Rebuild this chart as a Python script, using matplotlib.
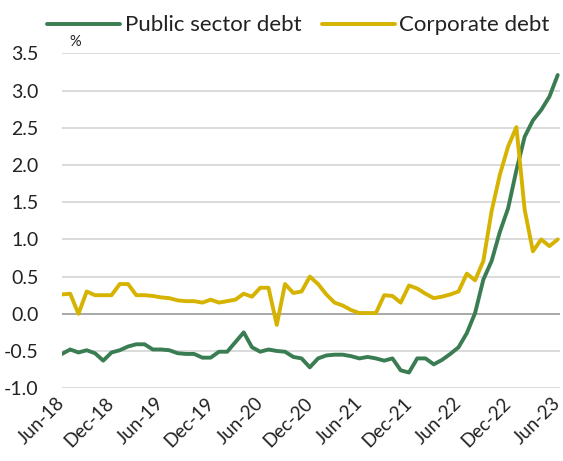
import matplotlib.pyplot as plt
from matplotlib.transforms import ScaledTranslation

# monthly series, Jun-18 .. Jun-23
public_debt = [-0.54, -0.48, -0.52, -0.49, -0.53, -0.63, -0.52, -0.49, -0.44, -0.41,
               -0.41, -0.48, -0.48, -0.49, -0.53, -0.54, -0.54, -0.59, -0.59, -0.51,
               -0.51, -0.38, -0.25, -0.45, -0.51, -0.48, -0.50, -0.51, -0.58, -0.60,
               -0.72, -0.60, -0.56, -0.55, -0.55, -0.57, -0.60, -0.58, -0.60, -0.63,
               -0.60, -0.76, -0.79, -0.60, -0.60, -0.68, -0.62, -0.54, -0.45, -0.26,
               0.01, 0.46, 0.71, 1.10, 1.42, 1.93, 2.38, 2.60, 2.74, 2.92, 3.21]
corporate_debt = [0.26, 0.27, 0.00, 0.30, 0.25, 0.25, 0.25, 0.40, 0.40, 0.25,
                  0.25, 0.24, 0.22, 0.21, 0.18, 0.17, 0.17, 0.15, 0.19, 0.15,
                  0.17, 0.19, 0.27, 0.23, 0.35, 0.35, -0.15, 0.40, 0.28, 0.30,
                  0.50, 0.40, 0.26, 0.15, 0.11, 0.05, 0.01, 0.01, 0.01, 0.25,
                  0.24, 0.15, 0.38, 0.34, 0.27, 0.21, 0.23, 0.26, 0.30, 0.54,
                  0.45, 0.71, 1.38, 1.87, 2.25, 2.51, 1.40, 0.84, 1.00, 0.91, 1.00]
tick_labels = ["Jun-18", "Dec-18", "Jun-19", "Dec-19", "Jun-20", "Dec-20",
               "Jun-21", "Dec-21", "Jun-22", "Dec-22", "Jun-23"]
y_ticks = [-1.0, -0.5, 0.0, 0.5, 1.0, 1.5, 2.0, 2.5, 3.0, 3.5]

plt.rcParams['font.family'] = ['Lato', 'DejaVu Sans']

fig = plt.figure(figsize=(5.63, 4.61), dpi=100)
ax = fig.add_axes([0.110, 0.158, 0.885, 0.726])

months = range(len(public_debt))
ax.plot(months, public_debt, color='#3b7d52', lw=2.8, label='Public sector debt',
        solid_joinstyle='round', solid_capstyle='round')
ax.plot(months, corporate_debt, color='#d6b300', lw=2.8, label='Corporate debt',
        solid_joinstyle='round', solid_capstyle='round')

for v in y_ticks:
    ax.axhline(v, color='#9a9a9a' if v == 0 else '#d4d4d4', lw=1.2, zorder=0)

ax.set_ylim(-1.0, 3.5)
ax.set_xlim(0, 60.3)
ax.set_yticks(y_ticks)
ax.set_yticklabels([f"{v:.1f}" for v in y_ticks], fontsize=14, color='#222222')
ax.set_xticks(range(0, 61, 6))
ax.set_xticklabels([])
# rotated month labels, drawn by hand so they can sit a little left of the tick
shift = ScaledTranslation(-6 / 100, -6 / 100, fig.dpi_scale_trans)
for pos, lbl in zip(ax.get_xticks(), tick_labels):
    ax.text(pos, 0, lbl, transform=ax.get_xaxis_transform() + shift,
            rotation=45, ha='right', va='top', rotation_mode='anchor',
            fontsize=13.5, color='#222222')
ax.tick_params(length=0)
ax.tick_params(axis='y', pad=17)
for s in ax.spines.values():
    s.set_visible(False)

fig.text(0.124, 0.9, '%', fontsize=10.5, color='#222222')

fig.legend(loc='upper center', bbox_to_anchor=(0.53, 1.01), ncol=2, frameon=False,
           fontsize=16, handlelength=3.3, handletextpad=0.2, columnspacing=0.9,
           labelcolor='#222222')

fig.savefig('out.png', dpi=100)
